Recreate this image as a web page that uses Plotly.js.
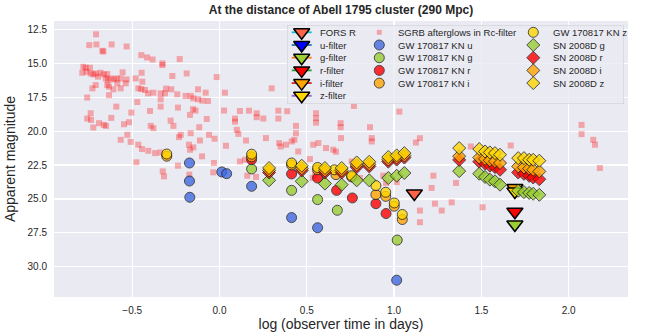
<!DOCTYPE html>
<html>
<head>
<meta charset="utf-8">
<script src="https://cdn.plot.ly/plotly-3.0.1.min.js"></script>
<style>
  html, body { margin: 0; padding: 0; background: #fff; }
  #chart { width: 645px; height: 333px; }
</style>
</head>
<body>
<div id="chart"></div>
<script>
// Light curves at the distance of Abell 1795.
// x = log10(observer time in days), y = apparent magnitude.

// upper limits (triangles)
var forsX = [1.116], forsY = [24.6];
var uLimX = [], uLimY = [];
var gLimX = [1.692], gLimY = [26.89];
var rLimX = [1.692], rLimY = [25.95];
var iLimX = [1.692], iLimY = [24.2];
var zLimX = [1.692], zLimY = [24.45];

// SGRB afterglows in Rc
var sgrbX = [-0.707, -0.746, -0.705, -0.618, -0.532, -0.671, -0.665, -0.448, -0.415, -0.383,
    -0.327, -0.327, -0.228, -0.780, -0.767, -0.742, -0.786, -0.761, -0.738, -0.723,
    -0.709, -0.696, -0.681, -0.662, -0.643, -0.652, -0.639, -0.623, -0.604, -0.589,
    -0.566, -0.555, -0.532, -0.537, -0.709, -0.728, -0.643, -0.633, -0.608, -0.585,
    -0.566, -0.446, -0.480, -0.442, -0.465, -0.448, -0.427, -0.379, -0.409, -0.337,
    -0.312, -0.306, -0.276, -0.242, -0.194, -0.270, -0.188, -0.016, -0.123, -0.079,
    -0.150, -0.123, -0.098, -0.066, -0.165, -0.337, -0.758, -0.633, -0.471, -0.591,
    -0.505, -0.398, -0.337, -0.238, -0.152, -0.137, -0.169, -0.073, -0.738, -0.758,
    -0.736, -0.690, -0.662, -0.650, -0.620, -0.723, -0.547, -0.518, -0.394, -0.379,
    -0.280, -0.264, -0.116, -0.528, -0.566, -0.509, -0.465, -0.444, -0.408, -0.369,
    -0.337, -0.232, -0.222, -0.165, -0.112, -0.060, -0.028, -0.175, -0.150, -0.169,
    -0.100, -0.476, -0.238, -0.032, 0.026, -0.325, -0.318, -0.036, 0.117, 0.146,
    0.159, 0.209, 0.037, -0.173, 0.342, 0.381, 0.414, 0.451, 0.031, 0.299,
    0.117, 0.169, 0.213, 0.213, 0.251, 0.337, 0.388, 0.337, 0.089, 0.099,
    0.108, 0.152, 0.266, 0.350, 0.429, 0.438, 0.438, 0.553, 0.553, 0.553,
    0.537, 0.566, 0.610, 0.667, 0.696, 0.694, 0.694, 0.770, 0.862, 0.872,
    0.872, 1.030, 1.125, 1.148, 1.225, 1.215, 1.148, 1.148, 1.234, 1.273,
    1.330, 1.355, 1.440, 1.507, 1.668, 2.074, 2.074, 2.141, 2.151, 2.179,
    0.652, 0.518, 0.534, 0.547, 0.757, 0.805, 0.938, 0.954, 1.015, 0.089];
var sgrbY = [12.85, 13.65, 13.60, 13.60, 13.75, 14.07, 14.12, 14.39, 14.56, 14.71,
    15.00, 15.12, 14.68, 15.25, 15.32, 15.32, 15.69, 15.62, 15.74, 15.81,
    15.74, 15.98, 15.69, 15.81, 15.79, 16.11, 16.23, 16.11, 16.18, 16.11,
    16.11, 15.66, 16.18, 16.47, 16.60, 16.84, 16.60, 16.72, 16.91, 16.47,
    16.84, 15.69, 16.11, 16.35, 16.84, 16.89, 16.96, 17.16, 17.21, 17.21,
    17.21, 16.86, 16.91, 17.28, 17.40, 15.93, 15.74, 16.01, 16.91, 17.16,
    17.58, 17.65, 17.75, 17.77, 17.40, 17.65, 17.52, 17.35, 17.85, 18.19,
    18.63, 18.51, 18.19, 18.26, 18.38, 18.48, 18.80, 19.10, 18.68, 19.07,
    19.17, 19.41, 19.54, 19.61, 19.02, 19.73, 19.49, 19.34, 19.61, 19.78,
    19.22, 19.61, 19.71, 20.27, 20.64, 20.79, 21.00, 21.32, 21.45, 21.62,
    21.57, 20.44, 20.27, 20.15, 20.69, 20.27, 20.56, 21.00, 21.20, 21.37,
    21.86, 22.30, 22.55, 22.35, 18.48, 22.97, 23.34, 23.04, 22.24, 22.11,
    23.29, 23.38, 21.08, 23.21, 20.88, 21.00, 20.76, 21.50, 17.16, 16.84,
    18.51, 18.49, 18.68, 18.97, 19.07, 18.49, 18.53, 19.07, 19.07, 19.90,
    20.20, 20.69, 20.51, 21.13, 20.64, 20.15, 19.61, 18.68, 19.04, 19.37,
    21.00, 20.88, 21.25, 21.52, 20.51, 19.41, 19.71, 18.14, 19.71, 20.51,
    20.76, 18.56, 20.84, 20.52, 23.29, 24.19, 25.86, 26.72, 25.35, 25.86,
    25.25, 23.82, 21.13, 25.62, 21.06, 19.54, 20.22, 20.64, 21.00, 22.72,
    21.37, 22.06, 23.45, 23.21, 22.24, 23.45, 23.28, 23.82, 23.76, 19.30];

// GW 170817 kilonova
var knUX = [-0.172, -0.172, -0.170, 0.013, 0.041, 0.184, 0.413, 0.562, 1.015];
var knUY = [22.35, 23.68, 24.88, 23.01, 23.14, 24.07, 26.38, 27.13, 31.0];
var knGX = [0.184, 0.413, 0.562, 0.675, 1.018];
var knGY = [22.79, 24.37, 25.05, 25.84, 28.04];
var knRX = [0.184, 0.413, 0.562, 0.671, 0.761, 0.896, 0.954];
var knRY = [22.10, 23.16, 23.46, 24.37, 24.93, 25.35, 26.08];
var knIX = [-0.302, 0.184, 0.413, 0.562, 0.667, 0.757, 0.896, 0.952, 1.001, 1.047];
var knIY = [21.85, 21.90, 22.50, 22.85, 23.21, 23.38, 24.68, 24.81, 25.54, 26.52];
var knZX = [-0.302, 0.184, 0.413, 0.562, 0.658, 0.757, 0.896, 0.952, 1.001, 1.047];
var knZY = [21.69, 21.70, 22.35, 22.68, 22.85, 23.29, 24.02, 24.51, 25.30, 26.15];

// SN 2008D, one time list shared by the four filters
var snX = [0.284, 0.471, 0.604, 0.700, 0.786, 0.858, 0.967, 1.015, 1.059, 1.373,
    1.488, 1.521, 1.549, 1.578, 1.607, 1.711, 1.744, 1.774, 1.797, 1.832];
var snG = [23.63, 23.70, 23.87, 23.95, 23.63, 23.63, 23.46, 23.29, 23.09, 22.95,
    23.14, 23.38, 23.58, 23.70, 23.95, 24.40, 24.50, 24.56, 24.62, 24.70];
var snR = [23.05, 22.90, 23.05, 23.05, 22.65, 22.60, 22.25, 22.10, 21.95, 22.12,
    22.25, 22.40, 22.55, 22.65, 22.85, 23.05, 23.15, 23.30, 23.42, 23.55];
var snI = [22.90, 22.75, 22.90, 22.90, 22.50, 22.45, 22.10, 21.95, 21.80, 21.85,
    21.95, 22.05, 22.15, 22.22, 22.35, 22.60, 22.68, 22.76, 22.85, 22.97];
var snZ = [22.72, 22.55, 22.72, 22.72, 22.31, 22.26, 21.91, 21.79, 21.62, 21.25,
    21.32, 21.50, 21.57, 21.62, 21.74, 21.99, 21.99, 22.11, 22.11, 22.18];

var series = [
    {name: 'FORS R', x: forsX, y: forsY, kind: 'lim', color: '#ff6347', legLine: '#17becf'},
    {name: 'u-filter', x: uLimX, y: uLimY, kind: 'lim', color: '#0000ff', legLine: '#1f77b4'},
    {name: 'g-filter', x: gLimX, y: gLimY, kind: 'lim', color: '#9acd32', legLine: '#ff7f0e'},
    {name: 'r-filter', x: rLimX, y: rLimY, kind: 'lim', color: '#ff0000', legLine: '#2ca02c'},
    {name: 'i-filter', x: iLimX, y: iLimY, kind: 'lim', color: '#ffa500', legLine: '#d62728'},
    {name: 'z-filter', x: zLimX, y: zLimY, kind: 'lim', color: '#ffd700', legLine: '#9467bd'},
    {name: 'SGRB afterglows in Rc-filter', x: sgrbX, y: sgrbY, kind: 'sgrb', color: 'rgba(255,0,0,0.3)'},
    {name: 'GW 170817 KN u', x: knUX, y: knUY, kind: 'kn', color: '#4169e1'},
    {name: 'GW 170817 KN g', x: knGX, y: knGY, kind: 'kn', color: '#9acd32'},
    {name: 'GW 170817 KN r', x: knRX, y: knRY, kind: 'kn', color: '#ff0000'},
    {name: 'GW 170817 KN i', x: knIX, y: knIY, kind: 'kn', color: '#ffa500'},
    {name: 'GW 170817 KN z', x: knZX, y: knZY, kind: 'kn', color: '#ffd700'},
    {name: 'SN 2008D g', x: snX, y: snG, kind: 'sn', color: '#9acd32'},
    {name: 'SN 2008D r', x: snX, y: snR, kind: 'sn', color: '#ff0000'},
    {name: 'SN 2008D i', x: snX, y: snI, kind: 'sn', color: '#ffa500'},
    {name: 'SN 2008D z', x: snX, y: snZ, kind: 'sn', color: '#ffd700'}
];

var styles = {
    lim:  {symbol: 'triangle-down', size: 14, legSize: 14, opacity: 1, edge: '#000', edgeW: 1.5},
    sgrb: {symbol: 'square', size: 6, legSize: 5, opacity: 1, edge: 'rgba(0,0,0,0)', edgeW: 0},
    kn:   {symbol: 'circle', size: 10, legSize: 10, opacity: 0.8, edge: '#222', edgeW: 1},
    sn:   {symbol: 'diamond', size: 10, legSize: 10, opacity: 0.8, edge: '#222', edgeW: 1}
};

var font = 'Liberation Sans, Arial, sans-serif';
var ink = '#262626';
var traces = [];
var annotations = [];

series.forEach(function(s) {
    var st = styles[s.kind];
    traces.push({
        x: s.x, y: s.y, type: 'scatter', mode: 'markers', name: s.name,
        showlegend: false, hoverinfo: 'skip',
        marker: {symbol: st.symbol, size: st.size, color: s.color, opacity: st.opacity,
                 line: {color: st.edge, width: st.edgeW}}
    });
});

// Hand-made 3-column legend on an inset axis (x2 in pixels from the box's left edge,
// y2 in row numbers). Columns hold 6, 5, 5 entries like matplotlib's ncol=3.
var colSizes = [6, 5, 5];
var colMarkerX = [14.7, 92.3, 246.3];
var colTextX = [30.7, 108.7, 263.7];
var k = 0;
colSizes.forEach(function(n, c) {
    for (var r = 0; r < n; r++, k++) {
        var s = series[k], st = styles[s.kind];
        if (s.legLine) {
            traces.push({x: [colMarkerX[c] - 10, colMarkerX[c] + 10], y: [r, r],
                xaxis: 'x2', yaxis: 'y2', mode: 'lines', showlegend: false, hoverinfo: 'skip',
                line: {color: s.legLine, width: 1.8}});
        }
        traces.push({x: [colMarkerX[c]], y: [r], xaxis: 'x2', yaxis: 'y2', mode: 'markers',
            showlegend: false, hoverinfo: 'skip',
            marker: {symbol: st.symbol, size: st.legSize, color: s.color, opacity: st.opacity,
                     line: {color: st.edge, width: st.edgeW}}});
        annotations.push({x: colTextX[c], y: r, xref: 'x2', yref: 'y2', text: s.name,
            xanchor: 'left', yanchor: 'middle', showarrow: false,
            font: {family: font, size: 9.5, color: ink}});
    }
});

var legW = 337, legTop = -0.575, legBottom = 5.646;

var axisBase = {
    showgrid: true, gridcolor: '#ffffff', gridwidth: 1.2, zeroline: false, showline: false,
    ticks: 'outside', ticklen: 4, tickcolor: 'rgba(0,0,0,0)',
    tickfont: {family: font, size: 10, color: ink}, automargin: false
};

var layout = {
    width: 645, height: 333,
    margin: {l: 54, r: 17, t: 21, b: 36},
    paper_bgcolor: '#ffffff',
    plot_bgcolor: 'rgba(0,0,0,0)',
    font: {family: font, color: ink},
    title: {text: 'At the distance of Abell 1795 cluster (290 Mpc)', xref: 'paper', x: 0.5,
            yref: 'container', y: 0.97, yanchor: 'middle',
            font: {family: font, size: 12, weight: 'bold', color: ink}},
    xaxis: Object.assign({}, axisBase, {
        range: [-0.948, 2.340], tick0: 0, dtick: 0.5, tickformat: '.1f',
        title: {text: 'log (observer time in days)', font: {family: font, size: 14, color: ink}, standoff: 4}
    }),
    yaxis: Object.assign({}, axisBase, {
        range: [32.24, 11.87], tick0: 12.5, dtick: 2.5, tickformat: '.1f',
        title: {text: 'Apparent magnitude', font: {family: font, size: 14, color: ink}, standoff: 8}
    }),
    xaxis2: {domain: [0.4059, 0.9930], anchor: 'y2', range: [0, legW], visible: false, fixedrange: true},
    yaxis2: {domain: [0.6993, 0.9855], anchor: 'x2', range: [legBottom, legTop], visible: false, fixedrange: true},
    shapes: [
        // axes face colour, under the grid
        {type: 'rect', xref: 'paper', yref: 'paper', x0: 0, x1: 1, y0: 0, y1: 1,
         fillcolor: '#eaeaf2', line: {width: 0}, layer: 'below'},
        // legend frame, drawn above the data of the main axes
        {type: 'rect', xref: 'x2', yref: 'y2', x0: 0, x1: legW, y0: legTop, y1: legBottom,
         fillcolor: 'rgba(234,234,242,0.8)', line: {color: '#cccccc', width: 1}, layer: 'below'}
    ],
    annotations: annotations,
    showlegend: false
};

Plotly.newPlot('chart', traces, layout, {displayModeBar: false, staticPlot: true});
</script>
</body>
</html>
